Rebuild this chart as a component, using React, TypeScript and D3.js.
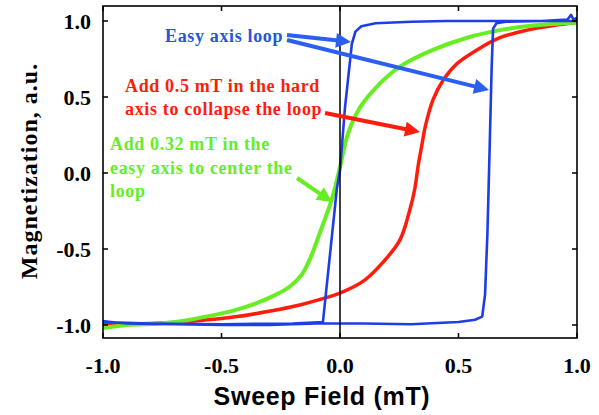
import React from "react";
import * as d3 from "d3";

const xTicks = [-1.0, -0.5, 0.0, 0.5, 1.0];
const yTicks = [-1.0, -0.5, 0.0, 0.5, 1.0];

// Easy axis loop (closed path: lower branch rightward, upper branch leftward)
const easyLoop: [number, number][] = [
  [-1, -0.975], [-0.9, -0.99], [-0.7, -0.995], [-0.5, -1.0], [-0.3, -1.0], [-0.1, -0.99],
  [0.1, -0.99], [0.3, -0.995], [0.5, -0.98], [0.57, -0.965], [0.6, -0.945], [0.612, -0.8],
  [0.622, -0.4], [0.632, 0.2], [0.64, 0.7], [0.646, 0.95], [0.66, 0.985], [0.7, 0.995],
  [0.85, 1.0], [0.96, 1.01], [0.975, 1.04], [0.985, 1.01], [1.0, 1.02],
  [1.0, 1.0], [0.8, 1.0], [0.6, 1.0], [0.45, 1.0], [0.3, 0.995], [0.15, 0.985],
  [0.09, 0.965], [0.065, 0.93], [0.05, 0.85], [0.021, 0.43], [0.0, 0.02], [-0.013, -0.1],
  [-0.072, -0.98], [-0.2, -0.99], [-0.5, -0.995], [-0.8, -0.99], [-1, -0.98],
];

// Hard-axis field added: collapsed loop
const hardCurve: [number, number][] = [
  [-1, -0.99], [-0.8, -0.99], [-0.6, -0.972], [-0.45, -0.948], [-0.3, -0.91], [-0.17, -0.868],
  [-0.08, -0.83], [0, -0.79], [0.1, -0.71], [0.18, -0.59], [0.253, -0.44], [0.295, -0.24],
  [0.316, -0.1], [0.329, 0.04], [0.345, 0.18], [0.359, 0.3], [0.392, 0.48], [0.435, 0.61],
  [0.494, 0.72], [0.578, 0.81], [0.675, 0.89], [0.79, 0.94], [0.9, 0.97], [1, 0.99],
];

// Easy-axis field added: centered loop
const centeredCurve: [number, number][] = [
  [-1, -1.02], [-0.9, -1.0], [-0.76, -0.99], [-0.65, -0.97], [-0.55, -0.94], [-0.45, -0.905],
  [-0.35, -0.855], [-0.27, -0.8], [-0.21, -0.745], [-0.16, -0.665], [-0.125, -0.56],
  [-0.084, -0.39], [-0.04, -0.2], [-0.02, -0.09], [0, 0.04], [0.034, 0.26], [0.084, 0.43],
  [0.169, 0.59], [0.253, 0.7], [0.392, 0.81], [0.536, 0.89], [0.675, 0.94], [0.814, 0.97], [1, 0.99],
];

const easyLabel = ["Easy axis loop"];
const hardLabel = ["Add 0.5 mT in the hard", "axis to collapse the loop"];
const centerLabel = ["Add 0.32 mT in the", "easy axis to center the", "loop"];

const W = 599, H = 415;
const L = 103, R = 577, T = 6, B = 338;

const BLUE = "#1f3de6";
const BLUE_ARROW = "#2b5ff0";
const BLUE_TEXT = "#2456dc";
const RED = "#ff1c0c";
const GREEN = "#66ee22";

function Arrow({ x1, y1, x2, y2, color }: { x1: number; y1: number; x2: number; y2: number; color: string }) {
  const dx = x2 - x1, dy = y2 - y1;
  const len = Math.hypot(dx, dy);
  const ux = dx / len, uy = dy / len;
  const hl = 15, hw = 7.5;
  const bx = x2 - ux * hl, by = y2 - uy * hl;
  const px = -uy, py = ux;
  const pts = [
    [x2, y2],
    [bx + px * hw, by + py * hw],
    [bx - px * hw, by - py * hw],
  ].map((p) => p.join(",")).join(" ");
  return (
    <g>
      <line x1={x1} y1={y1} x2={bx + ux * 2} y2={by + uy * 2} stroke={color} strokeWidth={4} />
      <polygon points={pts} fill={color} />
    </g>
  );
}

export default function App() {
  const x = d3.scaleLinear().domain([-1, 1]).range([L, R]);
  const y = d3.scaleLinear().domain([-1, 1]).range([325, 21]);

  const lineLin = d3.line<[number, number]>().x((d) => x(d[0])).y((d) => y(d[1]));
  const lineSmooth = d3
    .line<[number, number]>()
    .x((d) => x(d[0]))
    .y((d) => y(d[1]))
    .curve(d3.curveCatmullRom.alpha(0.5));

  const serif = "'Liberation Serif', 'Times New Roman', serif";
  const sans = "'Liberation Sans', Arial, sans-serif";
  const tl = 5;

  return (
    <svg width={W} height={H} style={{ position: "absolute", left: 0, top: 0, background: "#fff" }}>
      <defs>
        <clipPath id="plot">
          <rect x={L} y={T} width={R - L} height={B - T} />
        </clipPath>
      </defs>
      {/* curves */}
      <g clipPath="url(#plot)">
        <path d={lineSmooth(hardCurve) || ""} fill="none" stroke={RED} strokeWidth={3.5} />
        <path d={lineSmooth(centeredCurve) || ""} fill="none" stroke={GREEN} strokeWidth={4} />
        <path d={lineLin(easyLoop) || ""} fill="none" stroke={BLUE} strokeWidth={2.6} strokeLinejoin="round" />
      </g>
      {/* zero line */}
      <line x1={x(0)} x2={x(0)} y1={T} y2={B} stroke="#000" strokeWidth={1.5} />
      {/* frame */}
      <rect x={L} y={T} width={R - L} height={B - T} fill="none" stroke="#000" strokeWidth={1.6} />
      {/* ticks */}
      {xTicks.map((t) => (
        <g key={"xt" + t}>
          <line x1={x(t)} x2={x(t)} y1={B} y2={B - tl} stroke="#000" strokeWidth={1.5} />
          <line x1={x(t)} x2={x(t)} y1={T} y2={T + tl} stroke="#000" strokeWidth={1.5} />
          <text x={x(t)} y={373} textAnchor="middle" fontFamily={serif} fontWeight="bold" fontSize={22}>
            {t.toFixed(1)}
          </text>
        </g>
      ))}
      {yTicks.map((t) => (
        <g key={"yt" + t}>
          <line x1={L} x2={L + tl} y1={y(t)} y2={y(t)} stroke="#000" strokeWidth={1.5} />
          <line x1={R} x2={R - tl} y1={y(t)} y2={y(t)} stroke="#000" strokeWidth={1.5} />
          <text x={91} y={y(t) + 8} textAnchor="end" fontFamily={serif} fontWeight="bold" fontSize={22}>
            {t.toFixed(1)}
          </text>
        </g>
      ))}
      {/* axis labels */}
      <text x={322} y={405} textAnchor="middle" fontFamily={sans} fontWeight="bold" fontSize={25} letterSpacing={0.7}>
        Sweep Field (mT)
      </text>
      <text
        transform={`translate(37,171) rotate(-90)`}
        textAnchor="middle"
        fontFamily={serif}
        fontWeight="bold"
        fontSize={24}
        letterSpacing={1}
      >
        Magnetization, a.u.
      </text>
      {/* annotations */}
      <text x={165} y={42} fontFamily={serif} fontWeight="bold" fontSize={18} letterSpacing={0.65} fill={BLUE_TEXT}>
        {easyLabel[0]}
      </text>
      {hardLabel.map((s, i) => (
        <text key={"h" + i} x={125} y={92 + i * 23} fontFamily={serif} fontWeight="bold" fontSize={18} letterSpacing={0.65} fill={RED}>
          {s}
        </text>
      ))}
      {centerLabel.map((s, i) => (
        <text key={"c" + i} x={110} y={150 + i * 23.5} fontFamily={serif} fontWeight="bold" fontSize={18} letterSpacing={0.65} fill={GREEN}>
          {s}
        </text>
      ))}
      <Arrow x1={287} y1={35} x2={351} y2={42} color={BLUE_ARROW} />
      <Arrow x1={287} y1={40} x2={489} y2={90} color={BLUE_ARROW} />
      <Arrow x1={325} y1={113} x2={420} y2={132} color={RED} />
      <Arrow x1={297} y1={178} x2={332} y2={202} color={GREEN} />
    </svg>
  );
}
